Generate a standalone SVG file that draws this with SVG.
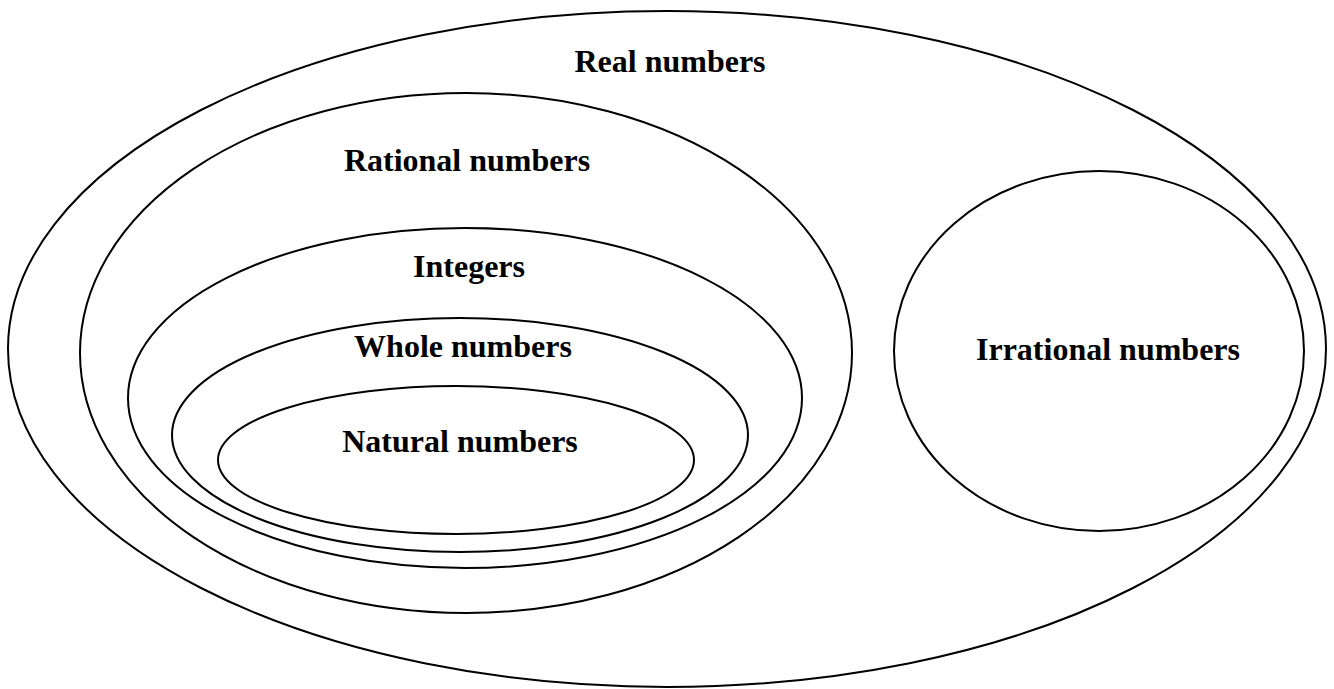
<svg xmlns="http://www.w3.org/2000/svg" width="1334" height="689" viewBox="0 0 1334 689">
<style>
.s{fill:none;stroke:#000;stroke-width:2}
.t{font-family:"Liberation Serif","Times New Roman",serif;font-weight:bold;font-size:32px;fill:#000;text-anchor:middle}
</style>
<rect width="1334" height="689" fill="#fff"/>
<g id="real"><ellipse class="s" cx="667" cy="349" rx="659" ry="338"/><text class="t" x="670" y="72">Real numbers</text></g>
<g id="rational"><ellipse class="s" cx="466" cy="353" rx="386" ry="260"/><text class="t" x="467" y="171">Rational numbers</text></g>
<g id="integers"><ellipse class="s" cx="465" cy="398" rx="337" ry="170"/><text class="t" x="469" y="277">Integers</text></g>
<g id="whole"><ellipse class="s" cx="460" cy="435" rx="288" ry="117"/><text class="t" x="463" y="357">Whole numbers</text></g>
<g id="natural"><ellipse class="s" cx="456" cy="460" rx="238" ry="74"/><text class="t" x="460" y="452">Natural numbers</text></g>
<g id="irrational"><ellipse class="s" cx="1099" cy="351" rx="205" ry="180"/><text class="t" x="1108" y="360">Irrational numbers</text></g>
<g id="connectors"/>
</svg>
